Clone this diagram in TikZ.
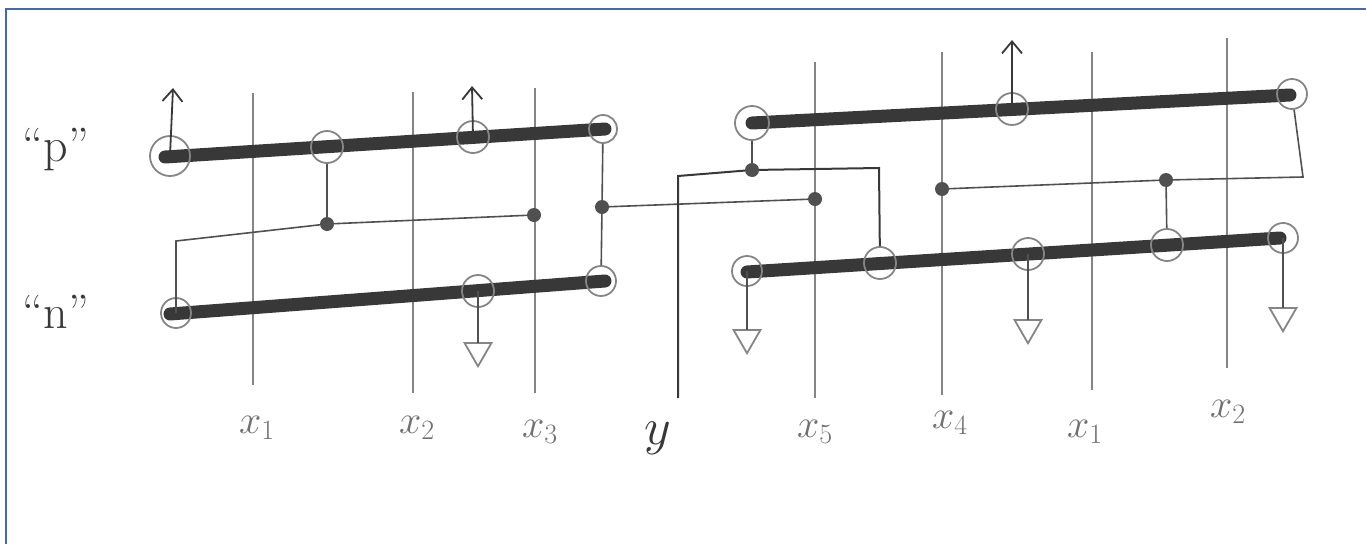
\RequirePackage{fix-cm}
\documentclass[tikz,border=0pt]{standalone}
\usepackage{xcolor}
\usepackage{tikz}
\usetikzlibrary{arrows.meta,shapes.geometric}
\definecolor{frame}{HTML}{4A6AA2}
\definecolor{ink}{HTML}{383838}
\definecolor{pencil}{HTML}{858585}
\definecolor{lead}{HTML}{505050}
\definecolor{graphite}{HTML}{707070}

\begin{document}
\begin{tikzpicture}[x=1pt, y=-1pt,
    diff/.style={line width=13pt, ink, line cap=round},
    gate/.style={line width=2pt, pencil},
    wire/.style={line width=1.6pt, lead},
    contact/.style={circle, draw=pencil, line width=1.8pt, minimum size=32pt, inner sep=0pt},
    via/.style={circle, fill=lead, minimum size=14pt, inner sep=0pt},
    supply/.style={wire, ink, line width=1.8pt, -{Straight Barb[length=12pt, width=20pt, line width=1.8pt]}},
    gnd/.style={regular polygon, regular polygon sides=3, shape border rotate=180,
      draw=pencil, line width=1.8pt, minimum size=31pt, inner sep=0pt, outer sep=0pt, anchor=side 2},
    lbl/.style={font=\fontsize{40}{44}\selectfont, graphite}]
  \useasboundingbox (0,0) rectangle (1366,544);

  % Page frame
  \draw[frame, line width=2.2pt] (6,544) -- (6,9) -- (1366,9);

  % Row labels
  \node[lbl, ink, font=\fontsize{48}{52}\selectfont] (rowp) at (56,150) {``p''};
  \node[lbl, ink, font=\fontsize{48}{52}\selectfont] (rown) at (56,312) {``n''};

  % Gates, left cell
  \draw[gate] (253,93) -- (253,385);
  \draw[gate] (413,92) -- (413,393);
  \draw[gate] (535,88) -- (535,393);
  \node[lbl] (lxa) at (257,428) {$x_1$};
  \node[lbl] (lxb) at (417,428) {$x_2$};
  \node[lbl] (lxc) at (540,432) {$x_3$};

  % Gates, right cell
  \draw[gate] (815,62) -- (815,398);
  \draw[gate] (942,52) -- (942,395);
  \draw[gate] (1092,52) -- (1092,390);
  \draw[gate] (1227,38) -- (1227,368);
  \node[lbl] (lxe) at (815,432) {$x_5$};
  \node[lbl] (lxd) at (950,423) {$x_4$};
  \node[lbl] (lxf) at (1085,432) {$x_1$};
  \node[lbl] (lxg) at (1228,412) {$x_2$};

  % Diffusion strips
  \coordinate (pa) at (165,157);
  \coordinate (pb) at (605,129);
  \coordinate (na) at (170,314);
  \coordinate (nb) at (605,281);
  \coordinate (pc) at (752,123);
  \coordinate (pd) at (1290,95);
  \coordinate (nc) at (747,272);
  \coordinate (nd) at (1280,238);
  \draw[diff] (pa) -- (pb);
  \draw[diff] (na) -- (nb);
  \draw[diff] (pc) -- (pd);
  \draw[diff] (nc) -- (nd);

  % Contacts
  \node[contact, minimum size=40pt] (cpa) at (170,156) {};
  \node[contact] (cpb) at (327,147) {};
  \node[contact] (cpc) at (473,137) {};
  \node[contact, minimum size=28pt] (cpd) at (603,129) {};
  \node[contact, minimum size=30pt] (cna) at (176,313) {};
  \node[contact] (cnb) at (478,291) {};
  \node[contact, minimum size=30pt] (cnc) at (601,281) {};
  \node[contact, minimum size=34pt] (cpe) at (752,123) {};
  \node[contact] (cpf) at (1012,109) {};
  \node[contact, minimum size=30pt] (cpg) at (1292,94) {};
  \node[contact, minimum size=30pt] (cne) at (747,271) {};
  \node[contact] (cnf) at (880,263) {};
  \node[contact] (cng) at (1028,254) {};
  \node[contact] (cnh) at (1167,245) {};
  \node[contact, minimum size=30pt] (cni) at (1283,238) {};

  % Vias
  \node[via] (va) at (327,224) {};
  \node[via] (vb) at (534,215) {};
  \node[via] (vc) at (602,207) {};
  \node[via] (vd) at (815,199) {};
  \node[via] (ve) at (752,170) {};
  \node[via] (vf) at (1166,180) {};
  \node[via] (vg) at (942,189) {};

  % Supply and ground
  \coordinate (vdda) at (173,88);
  \coordinate (vddb) at (472,86);
  \coordinate (vddc) at (1012,40);
  \draw[supply] (cpa.center) -- (vdda);
  \draw[supply] (cpc.center) -- (vddb);
  \draw[supply] (cpf.center) -- (vddc);
  \node[gnd] (gnda) at (478,343) {};
  \node[gnd] (gndb) at (747,330) {};
  \node[gnd] (gndc) at (1028,320) {};
  \node[gnd] (gndd) at (1283,308) {};
  \draw[wire] (cnb.center) -- (gnda.side 2);
  \draw[wire] (cne.center) -- (gndb.side 2);
  \draw[wire] (cng.center) -- (gndc.side 2);
  \draw[wire] (cni.center) -- (gndd.side 2);

  % Wiring, left cell
  \draw[wire] (cna.center) -- ++(0,-72) -- (va) -- (vb);
  \draw[wire] (cpb) -- (va);
  \draw[wire] (cpd) -- (vc) -- (cnc);
  \draw[wire] (vc) -- (vd);

  % Output y
  \coordinate (ybot) at (678,398);
  \draw[wire, ink, line width=2pt] (ybot) -- (678,176) -- (ve) -- (879,168) -- (cnf);
  \draw[wire] (cpe) -- (ve);
  \node[lbl, ink, font=\fontsize{52}{56}\selectfont] (ly) at (658,438) {$y$};

  % Wiring, right cell
  \draw[wire] (cpg) -- (1303,177) -- (vf) -- (vg);
  \draw[wire] (vf) -- (cnh);
\end{tikzpicture}
\end{document}
